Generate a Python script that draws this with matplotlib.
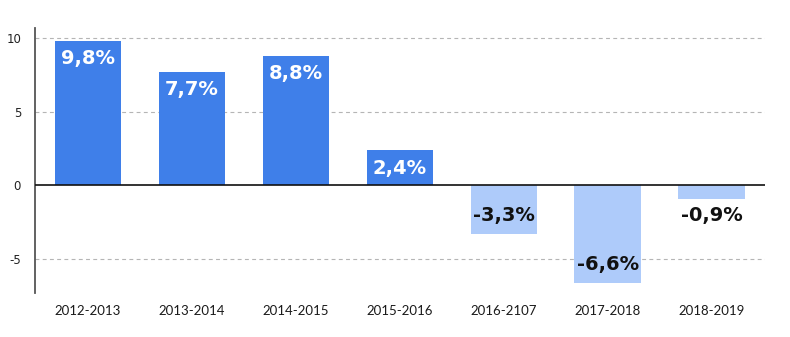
import matplotlib.pyplot as plt

PERIODS = ["2012-2013", "2013-2014", "2014-2015", "2015-2016", "2016-2107", "2017-2018", "2018-2019"]
GROWTH = [9.8, 7.7, 8.8, 2.4, -3.3, -6.6, -0.9]
LABELS = ["9,8%", "7,7%", "8,8%", "2,4%", "-3,3%", "-6,6%", "-0,9%"]
YTICKS = [-5, 0, 5, 10]

POS_COLOR = "#3f7fe9"
NEG_COLOR = "#aecbfa"

fig = plt.figure(figsize=(7.9, 3.37), dpi=100)
ax = fig.add_axes([0.0443, 0.1306, 0.9237, 0.7864])

x = range(len(PERIODS))
colors = [POS_COLOR if v >= 0 else NEG_COLOR for v in GROWTH]
ax.bar(x, GROWTH, width=0.64, color=colors, zorder=2)

# value labels inside the bar end, outside when the bar is too short
for i, (v, txt) in enumerate(zip(GROWTH, LABELS)):
    if v >= 0:
        off, col = -13, "white"
    elif abs(v) < 1.5:
        off, col = -12, "#111111"
    else:
        off, col = 13, "#111111"
    ax.annotate(txt, (i, v), xytext=(0, off), textcoords="offset points",
                ha="center", va="center", fontsize=14, fontweight="bold",
                color=col, family="DejaVu Sans", zorder=3)

ax.set_xlim(-0.51, 6.51)
ax.set_ylim(-7.31, 10.68)
ax.set_yticks(YTICKS)
ax.set_yticklabels([str(t) for t in YTICKS], fontsize=8.5, color="#222222")
ax.set_xticks(list(x))
ax.set_xticklabels(PERIODS, fontsize=9.5, family="Lato", color="#1a1a1a")
ax.tick_params(axis="both", length=0)
ax.tick_params(axis="y", pad=10)
ax.tick_params(axis="x", pad=9)

for t in [-5, 5, 10]:
    ax.axhline(t, color="#b5b5b5", lw=0.8, ls=(0, (3.5, 3)), zorder=1)
ax.axhline(0, color="#111111", lw=1.2, zorder=3)

for s in ["top", "right", "bottom"]:
    ax.spines[s].set_visible(False)
ax.spines["left"].set_color("#555555")
ax.spines["left"].set_linewidth(1.3)

fig.savefig("out.png", dpi=100)
